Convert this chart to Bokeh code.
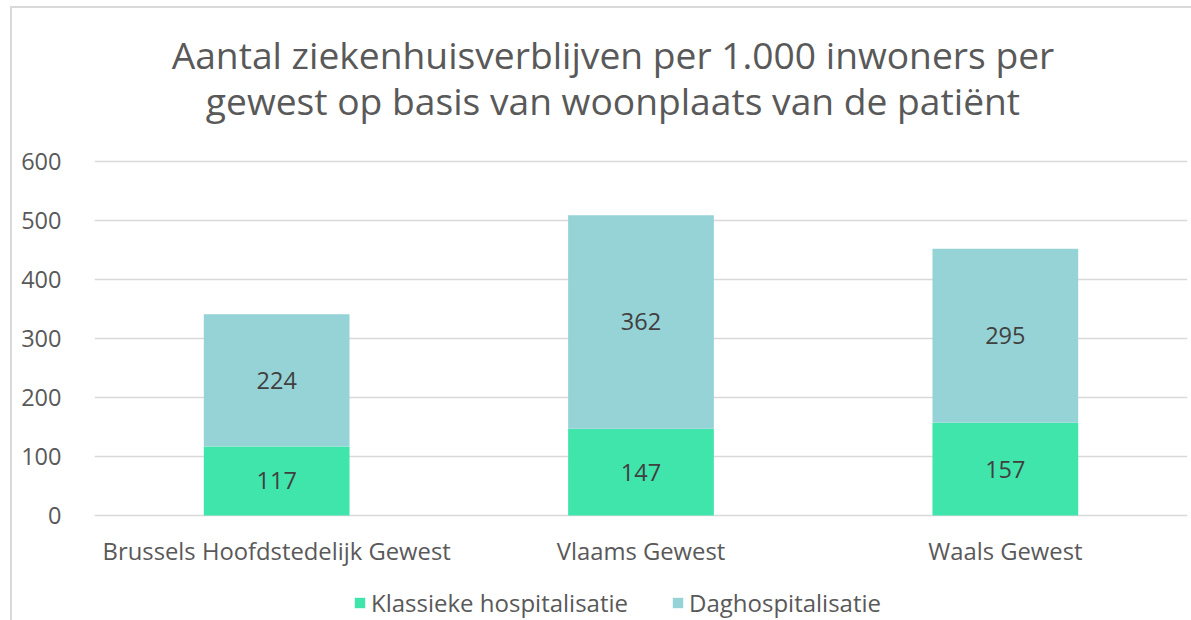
from bokeh.plotting import figure
from bokeh.models import ColumnDataSource, Label, Legend, LegendItem, FactorRange
from bokeh.core.properties import value
from bokeh.embed import file_html
from bokeh.resources import INLINE

regions = ["Brussels Hoofdstedelijk Gewest", "Vlaams Gewest", "Waals Gewest"]
klassiek = [117, 147, 157]
dag = [224, 362, 295]
series = ["Klassieke hospitalisatie", "Daghospitalisatie"]
colors = ["#40E5AC", "#96D3D6"]
y_ticks = [0, 100, 200, 300, 400, 500, 600]
title_lines = ["Aantal ziekenhuisverblijven per 1.000 inwoners per",
               "gewest op basis van woonplaats van de patiënt"]

FONT = "Open Sans"
TXT = "#595959"

source = ColumnDataSource(dict(
    regions=regions,
    klassiek=klassiek,
    dag=dag,
    k_mid=[k / 2 for k in klassiek],
    d_mid=[k + d / 2 for k, d in zip(klassiek, dag)],
    k_lbl=[str(k) for k in klassiek],
    d_lbl=[str(d) for d in dag],
))

p = figure(x_range=FactorRange(*regions), y_range=(-178.0, 872.9),
           width=1191, height=620, output_backend="svg", toolbar_location=None,
           min_border_left=94, min_border_right=4, min_border_top=0, min_border_bottom=0,
           styles={
               "background-color": "white",
               "background-image": "linear-gradient(#d9d9d9, #d9d9d9), linear-gradient(#d9d9d9, #d9d9d9)",
               "background-size": "2px 100%, 100% 2px",
               "background-position": "10px 6px, 10px 6px",
               "background-repeat": "no-repeat",
           })
p.outline_line_color = None
p.background_fill_color = None
p.border_fill_color = None

rs = p.vbar_stack(["klassiek", "dag"], x="regions", width=0.4, color=colors,
                  line_color=None, source=source)

for col, lbl in (("k_mid", "k_lbl"), ("d_mid", "d_lbl")):
    p.text(x="regions", y=col, text=lbl, source=source, text_align="center",
           text_baseline="middle", text_font=value(FONT), text_font_size="23.5px",
           text_color="#404040")

# category labels under the bars
p.text(x="regions", y=-60.2, text="regions", source=source, text_align="center",
       text_baseline="middle", text_font=value(FONT), text_font_size="23.8px",
       text_color=TXT)

p.xaxis.visible = False
p.xgrid.grid_line_color = None
p.ygrid.grid_line_color = "#d9d9d9"
p.ygrid.grid_line_width = 1.5
p.yaxis.ticker = y_ticks
ax = p.yaxis[0]
ax.axis_line_color = None
ax.major_tick_line_color = None
ax.minor_tick_line_color = None
ax.major_label_text_font = FONT
ax.major_label_text_color = TXT
ax.major_label_text_font_size = "23.5px"
ax.major_label_standoff = 27

tx = 1.423
for line, yc in zip(title_lines, (782.2, 702.7)):
    p.add_layout(Label(x=tx, y=yc, text=line, text_align="center", text_baseline="middle",
                       text_font=FONT, text_font_size="37.2px", text_color=TXT))

legend = Legend(items=[LegendItem(label=s, renderers=[r]) for s, r in zip(series, rs)],
                orientation="horizontal", location=(259, 1))
legend.label_text_font = FONT
legend.label_text_font_size = "24px"
legend.label_text_color = TXT
legend.glyph_width = 13
legend.glyph_height = 13
legend.label_standoff = 5
legend.spacing = 43
legend.padding = 0
legend.margin = 0
legend.border_line_color = None
legend.background_fill_alpha = 0
p.add_layout(legend, "center")

open("out.html", "w").write(file_html(p, INLINE))
